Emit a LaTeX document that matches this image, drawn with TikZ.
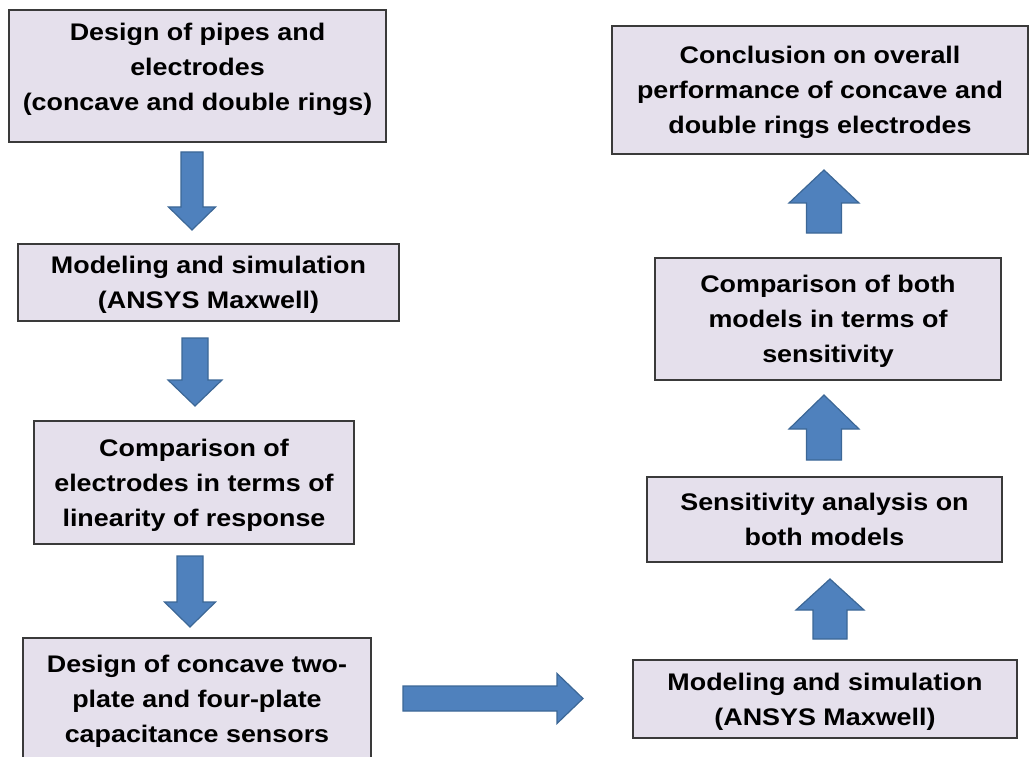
\documentclass[tikz,border=0pt]{standalone}
\usepackage{fontspec}
\setmainfont[FakeStretch=1.12]{Liberation Sans}
\usetikzlibrary{calc}
\definecolor{boxfill}{HTML}{E5E0EC}
\definecolor{boxline}{HTML}{3A3A3A}
\definecolor{arrfill}{HTML}{4F81BD}
\definecolor{arrline}{HTML}{3C6796}
\tikzset{
  box/.style={draw=boxline, line width=1.6pt, fill=boxfill, rectangle, inner sep=0pt,
    align=center, text depth=-2pt, font=\fontsize{24}{35}\selectfont\bfseries},
  txt/.style={align=center, inner sep=0pt, text depth=-2pt, font=\fontsize{24}{35}\selectfont\bfseries},
  blk/.style={fill=arrfill, draw=arrline, line width=1.2pt, line join=miter}
}
% vertical block arrow: start, tip, shaft half width, head half width, head length (signed)
\newcommand\vblk[5]{\draw[blk] ($(#1)+(-#3,0)$) -- ($(#1)+(#3,0)$) -- ($(#2)+(#3,#5)$) -- ($(#2)+(#4,#5)$) -- (#2) -- ($(#2)+(-#4,#5)$) -- ($(#2)+(-#3,#5)$) -- cycle;}
\newcommand\hblk[5]{\draw[blk] ($(#1)+(0,-#3)$) -- ($(#1)+(0,#3)$) -- ($(#2)+(#5,#3)$) -- ($(#2)+(#5,#4)$) -- (#2) -- ($(#2)+(#5,-#4)$) -- ($(#2)+(#5,-#3)$) -- cycle;}
\begin{document}
\begin{tikzpicture}[x=1pt,y=-1pt]
\useasboundingbox (0,0) rectangle (1029,757);
% left column
\node[box, minimum width=377, minimum height=132] (b1) at (197.5,76) {};
\node[txt] (b1t) at ($(b1.center)+(0,-9)$) {Design of pipes and\\electrodes\\(concave and double rings)};
\node[box, minimum width=381, minimum height=77] (b2) at (208.5,282.5) {Modeling and simulation\\(ANSYS Maxwell)};
\node[box, minimum width=320, minimum height=123] (b3) at (194,482.5) {Comparison of\\electrodes in terms of\\linearity of response};
\node[box, minimum width=348, minimum height=121] (b4) at (197,698.5) {Design of concave two-\\plate and four-plate\\capacitance sensors};
% right column
\node[box, minimum width=384, minimum height=78] (r1) at (825,699) {Modeling and simulation\\(ANSYS Maxwell)};
\node[box, minimum width=355, minimum height=85] (r2) at (824.5,519.5) {Sensitivity analysis on\\both models};
\node[box, minimum width=346, minimum height=122] (r3) at (828,319) {Comparison of both\\models in terms of\\sensitivity};
\node[box, minimum width=416, minimum height=128] (r4) at (820,90) {Conclusion on overall\\performance of concave and\\double rings electrodes};
% arrow end points
\coordinate (a1s) at (192,152);   \coordinate (a1t) at (192,230);
\coordinate (a2s) at (195,338);   \coordinate (a2t) at (195,406);
\coordinate (a3s) at (190,556);   \coordinate (a3t) at (190,627);
\coordinate (a4s) at (403,698.5); \coordinate (a4t) at (583,698.5);
\coordinate (u1s) at (830,639);   \coordinate (u1t) at (830,579);
\coordinate (u2s) at (824,460);   \coordinate (u2t) at (824,395);
\coordinate (u3s) at (824,233);   \coordinate (u3t) at (824,170);
% connectors
\vblk{a1s}{a1t}{11}{23.5}{-23}
\vblk{a2s}{a2t}{13}{27}{-26}
\vblk{a3s}{a3t}{13}{25.5}{-25}
\hblk{a4s}{a4t}{12.5}{25}{-26}
\vblk{u1s}{u1t}{17}{34}{31}
\vblk{u2s}{u2t}{17.5}{35}{34}
\vblk{u3s}{u3t}{17.5}{35}{33}
\end{tikzpicture}
\end{document}
